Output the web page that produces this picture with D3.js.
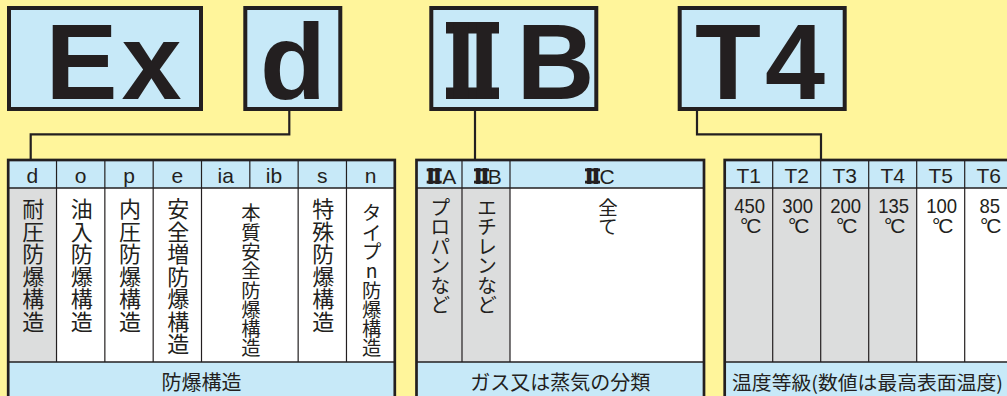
<!DOCTYPE html>
<html><head><meta charset="utf-8">
<script src="https://cdn.jsdelivr.net/npm/d3@7"></script>
<style>html,body{margin:0;padding:0;background:#fff59b;}svg{display:block;}</style>
</head><body>
<script>
// ---- data ----
const codeParts = ["Ex", "d", "ⅡB", "T4"];
const protCodes = ["d", "o", "p", "e", "ia", "ib", "s", "n"];
const protGroups = [["d"], ["o"], ["p"], ["e"], ["ia", "ib"], ["s"], ["n"]];
const protNames = ["耐圧防爆構造", "油入防爆構造", "内圧防爆構造", "安全増防爆構造", "本質安全防爆構造", "特殊防爆構造", "タイプn防爆構造"];
const protShaded = ["d"];
const gasGroups = ["ⅡA", "ⅡB", "ⅡC"];
const gasExamples = ["プロパンなど", "エチレンなど", "全て"];
const gasShaded = ["ⅡA", "ⅡB"];
const tempClasses = ["T1", "T2", "T3", "T4", "T5", "T6"];
const tempMaxC = [450, 300, 200, 135, 100, 85];
const tempShaded = ["T1", "T2", "T3", "T4"];
const footerTitles = ["防爆構造", "ガス又は蒸気の分類", "温度等級(数値は最高表面温度)"];

// ---- style ----
const W = 1007, H = 396;
const BG = "#fff59b", BLUE = "#c7e9f8", GRAY = "#dcdddd", INK = "#231f20";
const LATIN = "'Liberation Sans', Arial, Helvetica, sans-serif";
const CJK = "'Noto Sans CJK JP', 'Noto Sans CJK SC', sans-serif";
const ROMAN = "'DejaVu Sans', 'Noto Sans CJK JP', sans-serif";

const svg = d3.select("body").append("svg").attr("width", W).attr("height", H);
svg.append("rect").attr("width", W).attr("height", H).attr("fill", BG);

const yTop = 160, headBot = 188, bodyBot = 362, yBottom = 420;

// glyph metrics at 100px
const measureCtx = document.createElement("canvas").getContext("2d");
function measure(ch, weight, family) {
  measureCtx.font = `${weight} 100px ${family}`;
  const m = measureCtx.measureText(ch);
  return {L: m.actualBoundingBoxLeft, R: m.actualBoundingBoxRight,
          A: m.actualBoundingBoxAscent, D: m.actualBoundingBoxDescent, adv: m.width};
}

// "Ⅱ" + letter as one text element; Ⅱ gets the square top/bottom bars of the original
function romanLabel(g, str, barX0, barX1, y0, y1, bar, stemInset, restInkLeft, restSize, restWeight) {
  const rc = str.slice(0, 1), rest = str.slice(1);
  g.append("rect").attr("x", barX0).attr("y", y0).attr("width", barX1 - barX0).attr("height", bar).attr("fill", INK);
  g.append("rect").attr("x", barX0).attr("y", y1 - bar).attr("width", barX1 - barX0).attr("height", bar).attr("fill", INK);
  const mr = measure(rc, 700, ROMAN);
  const k = (y1 - y0) / (mr.A + mr.D);
  const inkW = (mr.L + mr.R) * k;
  const targetW = (barX1 - barX0) - 2 * stemInset;
  const sx = targetW / inkW;
  const inkLeft = barX0 + stemInset;
  const origin = inkLeft + mr.L * k * sx;
  const base = y1 - mr.D * k;
  const ml = measure(rest, restWeight, LATIN);
  const kr = restSize / 100;
  const restOrigin = restInkLeft + ml.L * kr;
  const advR = mr.adv * k * sx;
  const dx = restOrigin - (origin + advR);
  const t = g.append("text").attr("x", origin).attr("y", base).attr("fill", INK);
  t.append("tspan").attr("font-family", ROMAN).attr("font-weight", 700).attr("font-size", 100 * k)
    .attr("textLength", advR).attr("lengthAdjust", "spacingAndGlyphs").text(rc);
  t.append("tspan").attr("dx", dx).attr("font-family", LATIN).attr("font-weight", restWeight)
    .attr("font-size", restSize).text(rest);
}

// ---- top code boxes ----
const boxes = [
  {x0: 7, x1: 203},
  {x0: 243.3, x1: 342.3},
  {x0: 429.3, x1: 598.3},
  {x0: 677.7, x1: 846.7}
];
const gBoxes = svg.append("g");
codeParts.forEach((c, i) => {
  const b = boxes[i];
  gBoxes.append("rect").attr("x", b.x0 + 2).attr("y", 8).attr("width", b.x1 - b.x0 - 4).attr("height", 101)
    .attr("fill", BLUE).attr("stroke", INK).attr("stroke-width", 4);
});
gBoxes.append("text").attr("x", 115.5).attr("y", 99).attr("text-anchor", "middle")
  .attr("font-family", LATIN).attr("font-weight", 700).attr("font-size", 108)
  .attr("letter-spacing", 4).attr("fill", INK).text(codeParts[0]);
gBoxes.append("text").attr("x", 293).attr("y", 99).attr("text-anchor", "middle")
  .attr("font-family", LATIN).attr("font-weight", 700).attr("font-size", 108)
  .attr("fill", INK).text(codeParts[1]);
romanLabel(gBoxes, codeParts[2], 446, 499, 22, 99, 11.5, 7, 523, 108, 700);
gBoxes.append("text").attr("x", 762).attr("y", 99).attr("text-anchor", "middle")
  .attr("font-family", LATIN).attr("font-weight", 700).attr("font-size", 108)
  .attr("letter-spacing", 4).attr("fill", INK).text(codeParts[3]);

// ---- connectors ----
const line = d3.line();
const conn = [
  [[289.3, 109], [289.3, 134.3], [30.7, 134.3], [30.7, 160]],
  [[475, 109], [475, 160]],
  [[697, 109], [697, 134.3], [821, 134.3], [821, 160]]
];
svg.append("g").selectAll("path").data(conn).join("path")
  .attr("d", line).attr("fill", "none").attr("stroke", INK).attr("stroke-width", 2.2);

// vertical Japanese text, one glyph per line
function vText(g, str, cx, firstCenterY, step, size) {
  const chars = Array.from(str);
  g.append("g").selectAll("text").data(chars).join("text")
    .attr("x", cx).attr("y", (d, i) => firstCenterY + i * step)
    .attr("text-anchor", "middle").attr("dominant-baseline", "central")
    .attr("font-family", CJK).attr("font-size", size).attr("fill", INK)
    .text(d => d);
}

function drawTable(g, x0, x1) {
  g.append("rect").attr("x", x0).attr("y", yTop).attr("width", x1 - x0).attr("height", headBot - yTop).attr("fill", BLUE);
  g.append("rect").attr("x", x0).attr("y", bodyBot).attr("width", x1 - x0).attr("height", yBottom - bodyBot).attr("fill", BLUE);
  g.append("rect").attr("x", x0).attr("y", headBot).attr("width", x1 - x0).attr("height", bodyBot - headBot).attr("fill", "#fff");
}

// ---- Table 1: protection types ----
const t1 = svg.append("g");
const x1s = d3.scaleBand().domain(protCodes).range([8.2, 394.8]);
drawTable(t1, 8.2, 394.8);
t1.selectAll("rect.sh").data(protShaded).join("rect").attr("class", "sh")
  .attr("x", d => x1s(d)).attr("y", headBot).attr("width", x1s.bandwidth()).attr("height", bodyBot - headBot).attr("fill", GRAY);
protCodes.slice(1).forEach(c => {
  const inGroup = protGroups.some(gr => gr.length > 1 && gr.indexOf(c) > 0);
  t1.append("line").attr("x1", x1s(c)).attr("x2", x1s(c)).attr("y1", yTop).attr("y2", inGroup ? headBot : bodyBot)
    .attr("stroke", INK).attr("stroke-width", 1.2);
});
t1.selectAll("text.hd").data(protCodes).join("text").attr("class", "hd")
  .attr("x", d => x1s(d) + x1s.bandwidth() / 2).attr("y", 182.5).attr("text-anchor", "middle")
  .attr("font-family", LATIN).attr("font-size", 21).attr("fill", INK).text(d => d);
protGroups.forEach((gr, i) => {
  const a = x1s(gr[0]), b = x1s(gr[gr.length - 1]) + x1s.bandwidth();
  const n = Array.from(protNames[i]).length;
  if (n >= 8) vText(t1, protNames[i], (a + b) / 2 + 1, 212.3, 19.3, 19.3);
  else vText(t1, protNames[i], (a + b) / 2 + 1, 207, 22.5, 22);
});
t1.append("text").attr("x", (8.2 + 394.8) / 2).attr("y", 381).attr("text-anchor", "middle")
  .attr("dominant-baseline", "central").attr("font-family", CJK).attr("font-size", 20).attr("fill", INK).text(footerTitles[0]);

// ---- Table 2: gas groups ----
const t2 = svg.append("g");
const gasEdges = [416.5, 462, 510, 704];
const gx = d3.scaleOrdinal().domain(gasGroups).range(gasEdges.slice(0, 3));
const gw = d => gasEdges[gasGroups.indexOf(d) + 1] - gasEdges[gasGroups.indexOf(d)];
const gasLabelLeft = [426.7, 474, 585];
drawTable(t2, 416.5, 704);
t2.selectAll("rect.sh").data(gasShaded).join("rect").attr("class", "sh")
  .attr("x", d => gx(d)).attr("y", headBot).attr("width", gw).attr("height", bodyBot - headBot).attr("fill", GRAY);
gasGroups.slice(1).forEach(c => {
  t2.append("line").attr("x1", gx(c)).attr("x2", gx(c)).attr("y1", yTop).attr("y2", bodyBot)
    .attr("stroke", INK).attr("stroke-width", 1.2);
});
gasGroups.forEach((g, i) => {
  const l = gasLabelLeft[i];
  romanLabel(t2, g, l, l + 15, 168.5, 183.5, 2.8, 1.8, l + 15.5, 21, 400);
});
gasGroups.forEach((g, i) => {
  vText(t2, gasExamples[i], gx(g) + gw(g) / 2 + 1, 206.2, 19.5, 19.5);
});
t2.append("text").attr("x", (416.5 + 704) / 2).attr("y", 381).attr("text-anchor", "middle")
  .attr("dominant-baseline", "central").attr("font-family", CJK).attr("font-size", 20).attr("fill", INK).text(footerTitles[1]);

// ---- Table 3: temperature classes ----
const t3 = svg.append("g");
const tx = d3.scaleBand().domain(tempClasses).range([724.7, 1012.7]);
drawTable(t3, 724.7, 1030);
t3.selectAll("rect.sh").data(tempShaded).join("rect").attr("class", "sh")
  .attr("x", d => tx(d)).attr("y", headBot).attr("width", tx.bandwidth()).attr("height", bodyBot - headBot).attr("fill", GRAY);
tempClasses.slice(1).forEach(c => {
  t3.append("line").attr("x1", tx(c)).attr("x2", tx(c)).attr("y1", yTop).attr("y2", bodyBot)
    .attr("stroke", INK).attr("stroke-width", 1.2);
});
t3.selectAll("text.hd").data(tempClasses).join("text").attr("class", "hd")
  .attr("x", d => tx(d) + tx.bandwidth() / 2).attr("y", 182.5).attr("text-anchor", "middle")
  .attr("font-family", LATIN).attr("font-size", 21).attr("fill", INK).text(d => d);
t3.selectAll("text.val").data(tempMaxC).join("text").attr("class", "val")
  .attr("x", (d, i) => tx(tempClasses[i]) + tx.bandwidth() / 2 + 1).attr("y", 213).attr("text-anchor", "middle")
  .attr("font-family", LATIN).attr("font-size", 21).attr("fill", INK)
  .attr("textLength", d => String(d).length * 10.3).attr("lengthAdjust", "spacingAndGlyphs")
  .text(d => d);
t3.selectAll("text.unit").data(tempMaxC).join("text").attr("class", "unit")
  .attr("x", (d, i) => tx(tempClasses[i]) + tx.bandwidth() / 2 + 1).attr("y", 233).attr("text-anchor", "middle")
  .attr("font-family", LATIN).attr("font-size", 21).attr("fill", INK).attr("letter-spacing", -2)
  .text("°C");
t3.append("text").attr("x", 732).attr("y", 381)
  .attr("dominant-baseline", "central").attr("font-family", CJK).attr("font-size", 19).attr("fill", INK)
  .attr("textLength", 271).attr("lengthAdjust", "spacingAndGlyphs").text(footerTitles[2]);

// ---- table outlines & horizontal rules ----
[[8.2, 394.8], [416.5, 704], [724.7, 1030]].forEach(([a, b]) => {
  svg.append("line").attr("x1", a).attr("x2", b).attr("y1", headBot).attr("y2", headBot).attr("stroke", INK).attr("stroke-width", 1.5);
  svg.append("line").attr("x1", a).attr("x2", b).attr("y1", bodyBot).attr("y2", bodyBot).attr("stroke", INK).attr("stroke-width", 1.5);
  svg.append("rect").attr("x", a).attr("y", yTop).attr("width", b - a).attr("height", yBottom - yTop)
    .attr("fill", "none").attr("stroke", INK).attr("stroke-width", 2.7);
});
</script>
</body></html>
